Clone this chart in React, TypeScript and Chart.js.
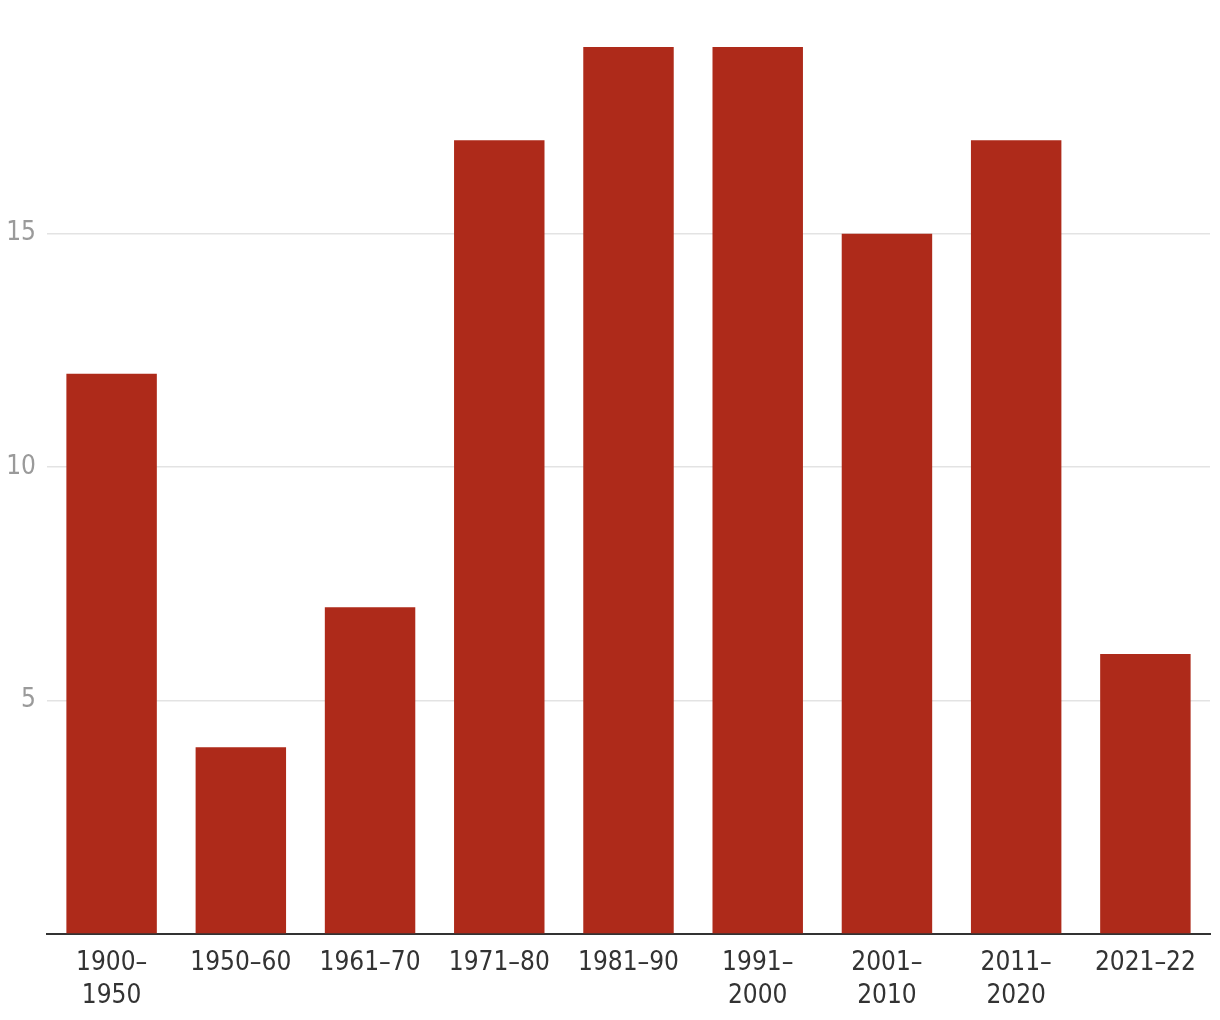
import React, { useEffect, useRef } from "react";
import { Chart, registerables } from "chart.js";

Chart.register(...registerables);

const categories: string[][] = [
  ["1900–", "1950"],
  ["1950–60"],
  ["1961–70"],
  ["1971–80"],
  ["1981–90"],
  ["1991–", "2000"],
  ["2001–", "2010"],
  ["2011–", "2020"],
  ["2021–22"],
];
const values: number[] = [12, 4, 7, 17, 19, 19, 15, 17, 6];
const yTicks: number[] = [0, 5, 10, 15];

const FONT = "'DejaVu Sans Condensed', 'DejaVu Sans', sans-serif";

export default function App() {
  const ref = useRef<HTMLCanvasElement | null>(null);
  useEffect(() => {
    if (!ref.current) return;
    const chart = new Chart(ref.current, {
      type: "bar",
      data: {
        labels: categories,
        datasets: [
          {
            data: values,
            backgroundColor: "#ae2a1a",
            categoryPercentage: 1,
            barPercentage: 0.7,
          },
        ],
      },
      options: {
        animation: false,
        responsive: false,
        maintainAspectRatio: false,
        layout: { padding: { top: 47, right: 10, left: 0, bottom: 0 } },
        plugins: { legend: { display: false }, tooltip: { enabled: false } },
        scales: {
          x: {
            grid: { display: false, drawTicks: false },
            border: { display: true, color: "#333333", width: 2 },
            ticks: {
              color: "#333333",
              font: { family: FONT, size: 26, lineHeight: 1.27 },
              padding: 13,
              maxRotation: 0,
              autoSkip: false,
            },
            afterFit: (scale: any) => {
              scale.height = 86;
            },
          },
          y: {
            min: 0,
            max: 19,
            afterBuildTicks: (scale: any) => {
              scale.ticks = yTicks.map((v) => ({ value: v }));
            },
            grid: {
              color: (ctx: any) => (ctx.tick && ctx.tick.value === 0 ? "rgba(0,0,0,0)" : "#e3e3e3"),
              lineWidth: 1.5,
              drawTicks: false,
            },
            border: { display: false },
            ticks: {
              color: "#9a9a9a",
              font: { family: FONT, size: 26 },
              padding: 11,
              callback: (v: any) => (v === 0 ? "" : String(v)),
            },
            afterFit: (scale: any) => {
              scale.width = 47;
            },
          },
        },
      },
    });
    return () => chart.destroy();
  }, []);
  return (
    <div style={{ position: "absolute", left: 0, top: 0, width: 1220, height: 1020, background: "#fff" }}>
      <canvas ref={ref} width={1220} height={1020} style={{ width: 1220, height: 1020 }} />
    </div>
  );
}
